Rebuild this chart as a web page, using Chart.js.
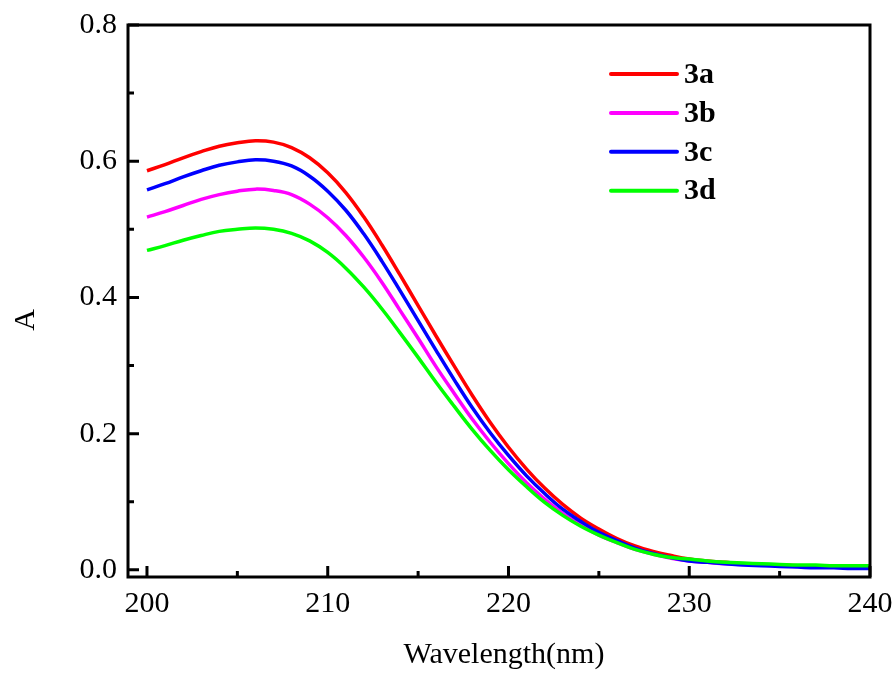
<!DOCTYPE html>
<html>
<head>
<meta charset="utf-8">
<script src="https://cdn.jsdelivr.net/npm/chart.js@4/dist/chart.umd.min.js"></script>
<style>
  html, body { margin: 0; padding: 0; background: #ffffff; }
  #wrap { width: 896px; height: 673px; }
</style>
</head>
<body>
<div id="wrap"><canvas id="c" width="896" height="673"></canvas></div>
<script>
// ---- data ----
const wavelengths = [200,201,202,203,204,205,206,207,208,209,210,211,212,213,214,215,216,217,218,219,220,
                     221,222,223,224,225,226,227,228,229,230,231,232,233,234,235,236,237,238,239,240];
const series3a = [0.586,0.595,0.605,0.614,0.622,0.627,0.630,0.628,0.620,0.605,0.583,0.554,0.518,0.477,0.433,0.388,0.343,0.299,0.256,0.216,0.180,
                  0.148,0.120,0.096,0.076,0.060,0.046,0.035,0.027,0.021,0.016,0.013,0.011,0.009,0.008,0.007,0.006,0.006,0.005,0.005,0.005];
const series3b = [0.518,0.526,0.535,0.544,0.551,0.556,0.559,0.557,0.551,0.537,0.517,0.491,0.459,0.422,0.381,0.340,0.298,0.259,0.221,0.187,0.156,
                  0.128,0.104,0.083,0.066,0.051,0.040,0.030,0.023,0.017,0.013,0.011,0.009,0.008,0.007,0.006,0.005,0.005,0.004,0.004,0.004];
const series3c = [0.558,0.567,0.577,0.586,0.594,0.599,0.602,0.600,0.593,0.578,0.556,0.528,0.493,0.453,0.410,0.366,0.322,0.279,0.238,0.201,0.168,
                  0.138,0.112,0.089,0.071,0.055,0.043,0.032,0.024,0.018,0.013,0.011,0.009,0.007,0.006,0.005,0.004,0.003,0.003,0.002,0.002];
const series3d = [0.469,0.476,0.484,0.491,0.497,0.500,0.502,0.500,0.494,0.483,0.466,0.443,0.415,0.383,0.348,0.312,0.275,0.240,0.206,0.175,0.147,
                  0.122,0.099,0.080,0.064,0.051,0.040,0.030,0.023,0.018,0.016,0.013,0.011,0.010,0.009,0.008,0.007,0.007,0.006,0.006,0.006];
const seriesLabels = ['3a','3b','3c','3d'];
const xTicks = [200,210,220,230,240];
const xMinorTicks = [205,215,225,235];
const yTicks = [0.0,0.2,0.4,0.6,0.8];
const yMinorTicks = [0.1,0.3,0.5,0.7];
const xTitle = 'Wavelength(nm)';
const yTitle = 'A';

// ---- helpers ----
const toPoints = arr => arr.map((v, i) => ({ x: wavelengths[i], y: v }));
const serif = "'Liberation Serif', 'Times New Roman', serif";

const colors = ['#ff0000', '#ff00ff', '#0000ff', '#00ff00'];
const allSeries = [series3a, series3b, series3c, series3d];

const datasets = allSeries.map((s, i) => ({
  label: seriesLabels[i],
  data: toPoints(s),
  borderColor: colors[i],
  backgroundColor: colors[i],
  borderWidth: 3.5,
  pointRadius: 0,
  tension: 0.4,
  fill: false,
  order: 4 - i
}));

const decorPlugin = {
  id: 'decor',
  afterDraw(chart) {
    const { ctx, chartArea: { left, right, top, bottom }, scales: { x, y } } = chart;
    ctx.save();
    ctx.strokeStyle = '#000';
    ctx.lineCap = 'butt';
    ctx.lineWidth = 3;
    ctx.beginPath();
    xTicks.forEach(v => { const p = x.getPixelForValue(v); ctx.moveTo(p, bottom); ctx.lineTo(p, bottom - 11); });
    xMinorTicks.forEach(v => { const p = x.getPixelForValue(v); ctx.moveTo(p, bottom); ctx.lineTo(p, bottom - 6); });
    yTicks.forEach(v => { const p = y.getPixelForValue(v); ctx.moveTo(left, p); ctx.lineTo(left + 11, p); });
    yMinorTicks.forEach(v => { const p = y.getPixelForValue(v); ctx.moveTo(left, p); ctx.lineTo(left + 6, p); });
    ctx.stroke();
    ctx.lineWidth = 3;
    ctx.strokeRect(left, top, right - left, bottom - top);
    ctx.fillStyle = '#000';
    ctx.font = '30px ' + serif;
    ctx.textAlign = 'center';
    ctx.textBaseline = 'alphabetic';
    ctx.fillText(xTitle, (left + right) / 2 + 5, 663);
    ctx.save();
    ctx.translate(34, 320);
    ctx.rotate(-Math.PI / 2);
    ctx.fillText(yTitle, 0, 0);
    ctx.restore();
    const lx0 = 611, lx1 = 677, ly0 = 74, lstep = 38.9;
    ctx.font = 'bold 30px ' + serif;
    ctx.textAlign = 'left';
    ctx.textBaseline = 'middle';
    chart.data.datasets.forEach((ds, i) => {
      const yy = ly0 + i * lstep;
      ctx.strokeStyle = ds.borderColor;
      ctx.lineWidth = 4;
      ctx.lineCap = 'round';
      ctx.beginPath();
      ctx.moveTo(lx0, yy);
      ctx.lineTo(lx1, yy);
      ctx.stroke();
      ctx.fillStyle = '#000';
      ctx.fillText(ds.label, 684, yy + 1);
    });
    ctx.restore();
  }
};

new Chart(document.getElementById('c'), {
  type: 'line',
  data: { datasets },
  options: {
    responsive: false,
    animation: false,
    devicePixelRatio: 1,
    layout: { padding: { left: 0, top: 25, right: 26, bottom: 0 } },
    plugins: { legend: { display: false }, tooltip: { enabled: false } },
    scales: {
      x: {
        type: 'linear',
        min: 198.95,
        max: 240,
        grid: { display: false, drawTicks: false },
        border: { display: false },
        afterBuildTicks: s => { s.ticks = xTicks.map(v => ({ value: v })); },
        afterFit: s => { s.height = 96; s.paddingLeft = 0; s.paddingRight = 0; s.paddingTop = 0; s.paddingBottom = 0; },
        ticks: {
          color: '#000',
          font: { family: serif, size: 30 },
          padding: 9,
          maxRotation: 0,
          callback: v => String(v)
        }
      },
      y: {
        type: 'linear',
        min: -0.0105,
        max: 0.8,
        grid: { display: false, drawTicks: false },
        border: { display: false },
        afterBuildTicks: s => { s.ticks = yTicks.map(v => ({ value: v })); },
        afterFit: s => { s.width = 128; s.paddingLeft = 0; s.paddingRight = 0; s.paddingTop = 0; s.paddingBottom = 0; },
        ticks: {
          color: '#000',
          font: { family: serif, size: 30 },
          padding: 11,
          callback: v => Number(v).toFixed(1)
        }
      }
    }
  },
  plugins: [decorPlugin]
});
</script>
</body>
</html>
